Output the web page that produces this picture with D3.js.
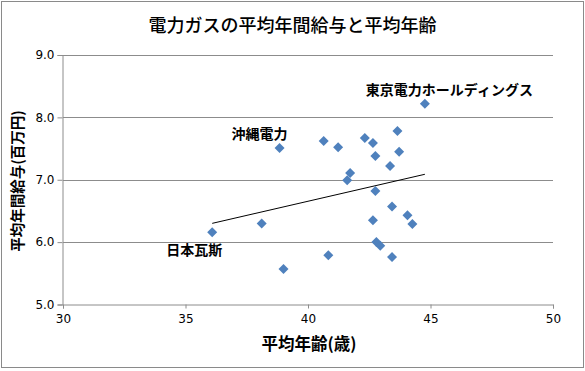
<!DOCTYPE html>
<html><head><meta charset="utf-8">
<script src="https://cdn.jsdelivr.net/npm/d3@7"></script>
<style>body{margin:0;background:#fff}svg{display:block}text{font-family:"Noto Sans CJK JP","Noto Sans",sans-serif}</style>
</head><body><svg id="c" width="585" height="371"></svg>
<script>
const ages = [44.77,38.84,36.09,40.64,41.23,42.32,42.65,43.65,43.72,42.75,43.35,41.72,41.60,42.75,43.43,44.06,44.26,42.65,42.79,42.95,43.43,40.83,38.11,39.00];
const salaries = [8.22,7.51,6.16,7.62,7.52,7.67,7.59,7.78,7.45,7.38,7.22,7.11,6.99,6.82,6.57,6.43,6.29,6.35,6.00,5.94,5.76,5.79,6.30,5.57];
const labels = ["東京電力ホールディングス","沖縄電力","日本瓦斯"];
const labelIndex = [0,1,2];
const xTicks = [30,35,40,45,50];
const yTicks = [5,6,7,8,9];
const title = "電力ガスの平均年間給与と平均年齢";
const xTitle = "平均年齢(歳)";
const yTitle = "平均年間給与(百万円)";

const svg = d3.select("#c");
svg.append("rect").attr("x",1.5).attr("y",1.5).attr("width",582).attr("height",366)
  .attr("fill","#fff").attr("stroke","#8a8a8a").attr("stroke-width",1);

const x = d3.scaleLinear().domain([30,50]).range([63,553]);
const y = d3.scaleLinear().domain([5,9]).range([304.5,55]);

// gridlines
svg.append("g").selectAll("line").data(yTicks.slice(1)).join("line")
  .attr("x1",63).attr("x2",553).attr("y1",d=>Math.round(y(d))+0.5).attr("y2",d=>Math.round(y(d))+0.5)
  .attr("stroke","#8c8c8c").attr("stroke-width",1);

const gx = svg.append("g").attr("transform","translate(0,304.5)")
  .call(d3.axisBottom(x).tickValues(xTicks).tickSize(4).tickPadding(6).tickFormat(d3.format("d")));
const gy = svg.append("g").attr("transform","translate(62.5,0)")
  .call(d3.axisLeft(y).tickValues(yTicks).tickSize(5).tickPadding(3).tickFormat(d3.format(".1f")));
[gx,gy].forEach(g=>{
  g.selectAll("path").attr("stroke","#8c8c8c");
  g.selectAll("line").attr("stroke","#8c8c8c");
  g.selectAll("text").attr("fill","#000").style("font-size","12px").style("font-family","'DejaVu Sans',sans-serif");
});

// trendline via linear regression
const mx = d3.mean(ages), my = d3.mean(salaries);
const slope = d3.sum(ages.map((a,i)=>(a-mx)*(salaries[i]-my))) / d3.sum(ages.map(a=>(a-mx)*(a-mx)));
const icpt = my - slope*mx;
const [x0,x1] = d3.extent(ages);
svg.append("line").attr("x1",x(x0)).attr("y1",y(icpt+slope*x0))
  .attr("x2",x(x1)).attr("y2",y(icpt+slope*x1)).attr("stroke","#000").attr("stroke-width",1);

// points
const sym = d3.symbol().type(d3.symbolSquare).size(50);
svg.append("g").selectAll("path").data(ages.map((a,i)=>[a,salaries[i]])).join("path")
  .attr("d",sym).attr("transform",d=>`translate(${x(d[0])},${y(d[1])}) rotate(45)`)
  .attr("fill","#4f81bd");

// labels
const offs = [[-59,-14],[-48,-14],[-46,18]];
labelIndex.forEach((idx,k)=>{
  svg.append("text").attr("x",x(ages[idx])+offs[k][0]).attr("y",y(salaries[idx])+offs[k][1]+5)
    .attr("text-anchor","start").style("font-size","14px").style("font-weight","bold")
    .text(labels[k]);
});

svg.append("text").attr("x",292.5).attr("y",32).attr("text-anchor","middle")
  .style("font-size","18px").style("font-weight","500").text(title);
svg.append("text").attr("x",309).attr("y",350).attr("text-anchor","middle")
  .style("font-size","16.5px").style("font-weight","bold").text(xTitle);
svg.append("text").attr("transform","translate(23,181) rotate(-90)").attr("text-anchor","middle")
  .style("font-size","14.5px").style("font-weight","bold").text(yTitle);
</script></body></html>
